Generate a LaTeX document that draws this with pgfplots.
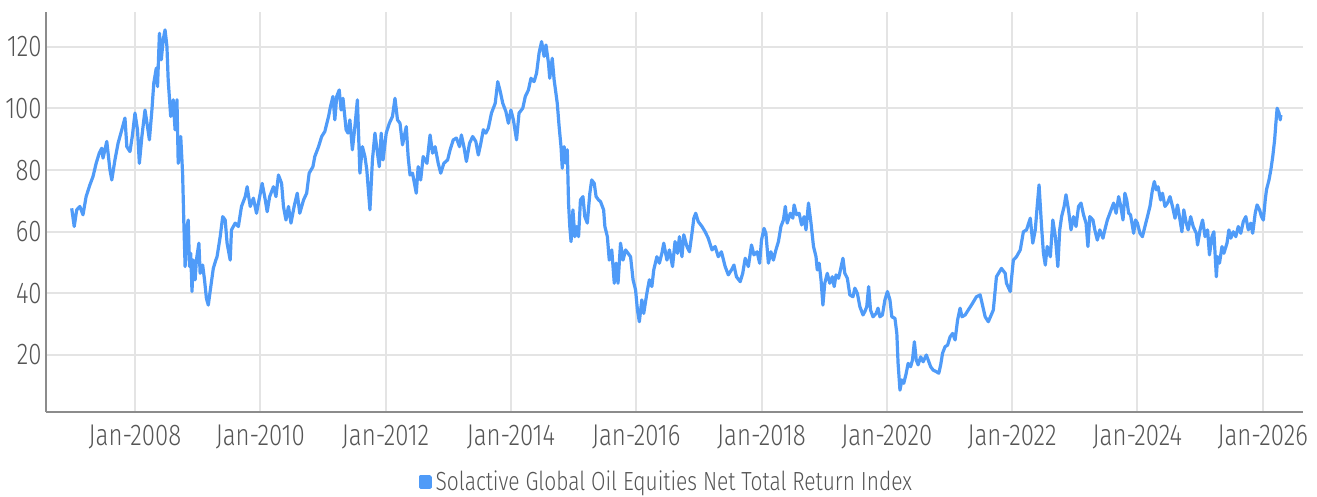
\documentclass[border=0pt]{standalone}
\usepackage{fontspec}
\setmainfont{Fira Sans}[UprightFont=* Light, FakeStretch=0.8]
\usepackage{pgfplots}
\pgfplotsset{compat=1.18}
\definecolor{oilblue}{HTML}{4F9BF8}
\definecolor{txtgray}{HTML}{555555}
\definecolor{axgray}{HTML}{8C8C8C}
\definecolor{gridgray}{HTML}{E4E4E4}
\begin{document}
\begin{tikzpicture}
\begin{axis}[
  name=ax,
  scale only axis,
  width=628.6pt, height=200pt,
  xmin=2006.575, xmax=2026.643,
  ymin=1.6, ymax=131.4,
  axis lines=left,
  axis line style={draw=axgray, line width=1pt, -},
  major tick length=0pt,
  xtick={2008,2010,2012,2014,2016,2018,2020,2022,2024,2026},
  xticklabels={Jan-2008,Jan-2010,Jan-2012,Jan-2014,Jan-2016,Jan-2018,Jan-2020,Jan-2022,Jan-2024,Jan-2026},
  ytick={20,40,60,80,100,120},
  /pgf/number format/assume math mode=true,
  grid=major,
  major grid style={draw=gridgray, line width=1pt},
  tick label style={font=\fontsize{15}{17}\selectfont, text=txtgray},
  xticklabel style={yshift=-3pt},
  yticklabel style={xshift=1.5pt},
  legend style={at={(0.4945,-0.176)}, anchor=center, draw=none, fill=none,
    font=\fontsize{13.1}{15}\selectfont, text=txtgray, inner sep=0pt},
  legend image code/.code={\fill[oilblue] (0pt,-2.6pt) rectangle (4.8pt,2.6pt);},
]
\addplot[color=oilblue, line width=1.6pt, line join=round, mark=none] table {
2006.99 67.6
2007.03 61.7
2007.07 67.1
2007.12 68.2
2007.17 65.5
2007.22 71.4
2007.28 75.2
2007.33 77.9
2007.38 82.2
2007.43 85.5
2007.47 87.1
2007.49 83.9
2007.55 89.3
2007.60 80.1
2007.63 76.8
2007.68 83.3
2007.73 88.7
2007.79 93.1
2007.84 96.9
2007.87 87.6
2007.92 86.0
2007.96 91.4
2008.00 98.5
2008.04 93.1
2008.07 82.2
2008.11 90.9
2008.16 99.5
2008.20 94.1
2008.23 89.8
2008.27 99.5
2008.30 108.2
2008.34 113.1
2008.36 107.1
2008.39 124.4
2008.42 115.8
2008.45 122.3
2008.48 125.5
2008.51 120.1
2008.53 109.3
2008.57 97.4
2008.61 102.8
2008.64 93.1
2008.67 102.8
2008.69 82.2
2008.73 90.9
2008.76 79.0
2008.78 62.8
2008.80 48.7
2008.83 61.7
2008.85 63.8
2008.87 48.7
2008.89 53.0
2008.91 40.6
2008.93 50.8
2008.96 44.4
2008.98 50.8
2009.02 56.3
2009.04 46.5
2009.08 49.2
2009.11 44.4
2009.14 38.4
2009.17 36.2
2009.21 42.2
2009.25 48.1
2009.29 50.8
2009.31 51.9
2009.36 58.4
2009.40 64.9
2009.44 63.8
2009.47 56.3
2009.52 50.8
2009.54 60.6
2009.60 62.8
2009.65 61.7
2009.70 68.2
2009.76 71.4
2009.79 74.6
2009.84 68.2
2009.89 70.9
2009.94 66.0
2010.00 72.5
2010.03 75.7
2010.08 70.3
2010.11 66.5
2010.15 71.4
2010.21 74.6
2010.25 71.4
2010.29 78.4
2010.34 75.7
2010.37 68.2
2010.41 63.8
2010.45 68.2
2010.49 62.8
2010.54 68.2
2010.59 72.5
2010.63 66.0
2010.69 70.3
2010.74 72.5
2010.78 79.0
2010.84 81.1
2010.87 84.4
2010.93 87.6
2010.98 90.9
2011.03 92.5
2011.09 97.4
2011.12 100.6
2011.16 103.9
2011.19 96.3
2011.22 103.9
2011.26 106.0
2011.29 99.5
2011.32 103.3
2011.37 93.1
2011.40 92.0
2011.43 96.3
2011.47 86.6
2011.51 94.1
2011.55 102.8
2011.59 79.0
2011.63 87.6
2011.67 84.4
2011.70 80.1
2011.75 67.1
2011.79 83.3
2011.83 92.0
2011.87 85.5
2011.90 81.1
2011.93 92.0
2011.96 83.3
2012.01 92.0
2012.06 95.2
2012.11 97.4
2012.15 103.3
2012.19 96.3
2012.23 95.2
2012.27 88.2
2012.33 94.1
2012.36 84.4
2012.39 78.4
2012.43 79.0
2012.49 72.5
2012.52 81.1
2012.56 76.8
2012.60 84.4
2012.66 82.2
2012.71 91.4
2012.75 85.5
2012.79 87.6
2012.84 82.2
2012.88 79.0
2012.93 82.2
2012.99 83.3
2013.03 86.6
2013.08 89.8
2013.13 90.4
2013.18 87.6
2013.21 91.4
2013.25 87.6
2013.29 82.8
2013.34 88.7
2013.39 90.9
2013.44 89.3
2013.48 84.9
2013.52 88.7
2013.56 93.1
2013.60 92.0
2013.64 93.6
2013.69 98.5
2013.75 101.7
2013.79 108.7
2013.83 105.5
2013.87 101.7
2013.92 99.0
2013.96 95.2
2014.00 99.5
2014.04 96.3
2014.09 89.8
2014.13 98.5
2014.19 100.1
2014.23 103.9
2014.28 106.0
2014.32 109.8
2014.37 108.7
2014.41 111.5
2014.45 118.0
2014.49 121.7
2014.53 116.9
2014.56 120.6
2014.60 114.7
2014.62 109.8
2014.66 116.3
2014.69 109.3
2014.74 101.7
2014.77 94.1
2014.80 87.6
2014.82 80.6
2014.85 87.6
2014.88 82.2
2014.90 86.6
2014.92 69.3
2014.94 61.7
2014.96 56.8
2014.99 67.1
2015.02 58.4
2015.05 61.7
2015.08 58.4
2015.11 70.3
2015.15 71.4
2015.18 64.9
2015.22 62.8
2015.26 72.5
2015.29 76.8
2015.33 75.7
2015.36 71.4
2015.40 70.3
2015.43 69.8
2015.48 67.1
2015.50 61.7
2015.54 58.4
2015.57 50.8
2015.61 54.1
2015.65 43.3
2015.68 49.8
2015.71 43.3
2015.75 56.3
2015.79 50.8
2015.83 54.1
2015.87 53.0
2015.91 51.9
2015.95 44.4
2015.99 41.1
2016.02 34.6
2016.05 30.8
2016.09 37.9
2016.12 33.5
2016.17 40.0
2016.21 44.4
2016.25 42.2
2016.28 47.6
2016.33 51.9
2016.37 49.8
2016.41 53.0
2016.44 56.3
2016.49 50.8
2016.53 54.1
2016.58 48.7
2016.62 56.8
2016.66 53.0
2016.69 58.4
2016.73 51.9
2016.76 59.0
2016.81 55.2
2016.85 53.5
2016.89 59.5
2016.92 64.4
2016.95 66.0
2016.99 63.3
2017.05 61.7
2017.10 60.0
2017.15 57.9
2017.21 54.1
2017.26 55.2
2017.31 51.9
2017.36 53.5
2017.42 48.7
2017.47 46.0
2017.52 47.6
2017.56 49.2
2017.60 45.4
2017.66 43.8
2017.70 46.5
2017.74 51.4
2017.79 48.7
2017.84 55.7
2017.88 52.5
2017.93 53.5
2017.97 49.8
2018.00 57.3
2018.04 61.1
2018.07 59.5
2018.11 49.8
2018.15 53.5
2018.19 50.8
2018.23 54.1
2018.27 56.8
2018.31 61.7
2018.35 63.8
2018.38 68.2
2018.41 62.8
2018.46 66.0
2018.50 64.4
2018.52 68.7
2018.56 65.5
2018.60 66.0
2018.64 62.2
2018.68 64.9
2018.71 60.6
2018.75 69.3
2018.79 62.8
2018.83 55.2
2018.87 51.9
2018.89 47.6
2018.92 49.8
2018.95 44.4
2018.98 36.2
2019.01 43.3
2019.05 46.5
2019.09 43.3
2019.13 45.4
2019.16 42.2
2019.19 46.0
2019.23 44.9
2019.26 47.6
2019.30 51.4
2019.33 46.5
2019.37 44.9
2019.41 39.5
2019.46 38.9
2019.49 41.7
2019.53 40.0
2019.57 35.7
2019.62 33.0
2019.65 34.1
2019.68 35.7
2019.71 42.2
2019.74 34.6
2019.78 32.4
2019.83 33.5
2019.86 35.2
2019.89 32.4
2019.93 33.0
2019.97 37.9
2020.01 40.6
2020.05 37.9
2020.08 32.4
2020.13 31.9
2020.16 27.0
2020.18 17.3
2020.21 8.6
2020.24 11.9
2020.27 10.8
2020.31 14.1
2020.34 17.3
2020.38 16.2
2020.41 18.4
2020.44 24.3
2020.47 18.4
2020.50 16.8
2020.54 19.4
2020.58 17.8
2020.63 20.0
2020.66 18.4
2020.70 16.2
2020.74 15.1
2020.79 14.6
2020.83 14.1
2020.86 16.8
2020.89 20.6
2020.93 22.7
2020.97 23.2
2021.01 25.9
2021.05 27.0
2021.09 24.9
2021.13 31.4
2021.17 35.2
2021.20 32.4
2021.25 33.0
2021.30 34.6
2021.36 36.5
2021.43 38.9
2021.49 39.5
2021.57 32.4
2021.62 30.8
2021.70 34.6
2021.75 45.4
2021.83 48.1
2021.89 46.5
2021.91 43.3
2021.97 40.6
2022.02 50.8
2022.07 51.9
2022.13 54.1
2022.18 60.0
2022.23 60.6
2022.29 64.4
2022.33 56.3
2022.37 60.6
2022.40 68.2
2022.43 75.2
2022.47 61.7
2022.50 53.0
2022.53 49.2
2022.56 55.2
2022.61 51.9
2022.65 63.8
2022.69 58.4
2022.73 48.7
2022.76 60.6
2022.79 64.9
2022.83 68.2
2022.86 72.0
2022.90 67.1
2022.94 60.6
2022.98 64.9
2023.02 61.7
2023.06 68.2
2023.10 69.3
2023.14 65.5
2023.18 62.8
2023.21 55.2
2023.24 64.9
2023.29 63.8
2023.32 60.6
2023.36 57.3
2023.40 60.6
2023.45 57.9
2023.48 60.6
2023.52 63.8
2023.56 66.0
2023.62 69.3
2023.66 66.0
2023.70 71.4
2023.73 68.7
2023.77 63.8
2023.80 72.5
2023.83 70.3
2023.86 66.0
2023.89 65.5
2023.94 59.5
2023.97 63.8
2024.00 62.8
2024.04 59.5
2024.08 58.4
2024.12 61.7
2024.16 64.9
2024.20 68.2
2024.24 73.6
2024.27 76.3
2024.30 73.6
2024.33 74.6
2024.37 70.3
2024.40 72.5
2024.44 68.2
2024.48 69.3
2024.52 71.4
2024.56 68.2
2024.60 64.4
2024.64 68.7
2024.68 63.8
2024.71 60.0
2024.74 67.1
2024.78 62.8
2024.81 60.6
2024.85 64.9
2024.89 61.7
2024.94 59.5
2024.96 55.7
2025.00 60.6
2025.04 63.8
2025.08 58.4
2025.12 60.6
2025.15 52.5
2025.19 58.4
2025.22 60.0
2025.26 45.4
2025.28 51.9
2025.31 49.8
2025.35 55.2
2025.38 53.0
2025.43 56.3
2025.46 60.6
2025.49 57.9
2025.53 60.0
2025.57 58.4
2025.61 61.7
2025.65 59.5
2025.69 63.3
2025.73 64.9
2025.77 60.6
2025.81 62.8
2025.84 59.5
2025.88 66.0
2025.91 68.7
2025.95 67.1
2025.98 64.9
2026.01 63.8
2026.04 70.3
2026.06 73.6
2026.10 76.8
2026.13 80.1
2026.16 84.4
2026.19 89.8
2026.21 95.2
2026.23 100.1
2026.26 98.5
2026.28 96.3
2026.29 97.9
};
\addlegendentry{Solactive Global Oil Equities Net Total Return Index}
\end{axis}
\pgfresetboundingbox
\path ([xshift=-22.85pt,yshift=-42.15pt]ax.south west) rectangle ([xshift=7pt,yshift=5.85pt]ax.north east);
\end{tikzpicture}
\end{document}
